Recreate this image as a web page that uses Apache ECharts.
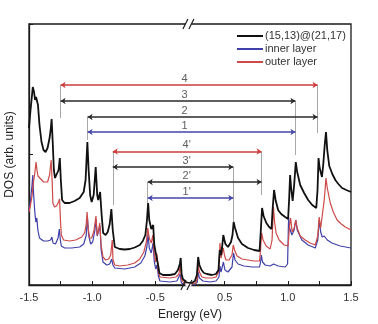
<!DOCTYPE html>
<html><head><meta charset="utf-8">
<script src="https://cdn.jsdelivr.net/npm/echarts@6/dist/echarts.min.js"></script>
<style>html,body{margin:0;padding:0;background:#fff}#c{width:378px;height:324px}</style>
</head><body><div id="c"></div>
<script>
// ---- data: [energy (eV), DOS (arb. units)] ----
const totalDOS = [
[-1.5,157],[-1.488,175],[-1.476,190],[-1.470,198],[-1.460,193],[-1.452,185],[-1.444,188],[-1.437,190],[-1.429,180],[-1.417,160],[-1.401,143],[-1.385,135],[-1.369,133],[-1.353,137],[-1.337,147],[-1.327,157],[-1.321,166],[-1.313,145],[-1.303,115],[-1.294,107],[-1.282,109],[-1.266,115],[-1.256,127],[-1.248,105],[-1.238,85],[-1.218,82],[-1.179,82],[-1.139,84],[-1.099,87],[-1.067,93],[-1.052,105],[-1.038,143],[-1.028,115],[-1.016,90],[-1.004,83],[-0.988,90],[-0.972,118],[-0.960,90],[-0.952,85],[-0.937,93],[-0.925,70],[-0.913,52],[-0.893,50],[-0.877,53],[-0.861,61],[-0.848,76],[-0.837,55],[-0.821,38],[-0.782,36],[-0.742,35.5],[-0.702,36],[-0.663,37.5],[-0.623,40],[-0.599,44],[-0.579,50],[-0.566,65],[-0.557,82],[-0.548,65],[-0.532,56],[-0.517,60],[-0.508,40],[-0.498,33],[-0.488,35],[-0.478,20],[-0.468,12],[-0.440,10],[-0.385,10],[-0.345,11],[-0.321,15],[-0.306,21],[-0.299,27],[-0.292,11],[-0.282,6],[-0.258,3],[-0.238,2],
[0.213,2],[0.240,2],[0.264,4],[0.280,10],[0.290,28],[0.300,20],[0.317,15],[0.336,12],[0.360,11],[0.399,10],[0.431,11],[0.451,15],[0.461,35],[0.471,30],[0.479,37],[0.489,50],[0.498,45],[0.506,41],[0.526,38],[0.550,43],[0.562,50],[0.571,63],[0.582,57],[0.606,47],[0.637,41],[0.685,37],[0.733,35],[0.776,34],[0.784,50],[0.796,77],[0.808,69],[0.830,62],[0.852,58],[0.871,56],[0.879,75],[0.891,95],[0.903,85],[0.923,75],[0.947,71],[0.979,68],[1.002,66],[1.010,85],[1.018,110],[1.026,97],[1.038,84],[1.050,100],[1.063,123],[1.074,113],[1.098,100],[1.129,92],[1.161,85],[1.193,80],[1.225,77],[1.235,95],[1.243,127],[1.252,117],[1.270,108],[1.280,120],[1.292,140],[1.302,153],[1.312,135],[1.328,119],[1.352,111],[1.376,105],[1.400,101],[1.429,97],[1.463,95],[1.5,93]
];
const outerDOS = [
[-1.5,73],[-1.488,80],[-1.476,89],[-1.468,100],[-1.456,110],[-1.444,123],[-1.437,115],[-1.429,109],[-1.417,107],[-1.385,103],[-1.353,103],[-1.337,110],[-1.325,125],[-1.317,105],[-1.311,82],[-1.298,78],[-1.282,79],[-1.266,83],[-1.258,86],[-1.251,65],[-1.244,50],[-1.226,45],[-1.179,44],[-1.131,45],[-1.083,48],[-1.060,52],[-1.048,60],[-1.040,73],[-1.032,57],[-1.020,47],[-1.004,47],[-0.988,53],[-0.976,63],[-0.970,69],[-0.960,50],[-0.952,53],[-0.940,62],[-0.929,40],[-0.914,28],[-0.893,25],[-0.869,26],[-0.853,30],[-0.841,45],[-0.835,25],[-0.821,20],[-0.782,19],[-0.718,20],[-0.663,22],[-0.623,26],[-0.591,33],[-0.571,43],[-0.560,57],[-0.548,47],[-0.532,42],[-0.520,50],[-0.508,30],[-0.496,23],[-0.487,31],[-0.478,15],[-0.464,8],[-0.385,7],[-0.337,8],[-0.313,11],[-0.302,20],[-0.292,5],[-0.274,2],[-0.238,1],
[0.213,1],[0.240,1],[0.272,2],[0.284,7],[0.290,20],[0.300,13],[0.320,8],[0.352,7],[0.399,7],[0.431,8],[0.451,13],[0.457,25],[0.463,42],[0.471,27],[0.479,29],[0.489,37],[0.498,30],[0.510,25],[0.534,25],[0.558,30],[0.568,40],[0.578,35],[0.598,29],[0.637,26],[0.685,25],[0.733,24],[0.776,24],[0.784,35],[0.792,52],[0.804,45],[0.828,39],[0.860,36],[0.875,45],[0.886,78],[0.895,63],[0.907,52],[0.931,45],[0.971,40],[1.002,39],[1.014,60],[1.022,67],[1.034,53],[1.050,57],[1.063,65],[1.074,57],[1.098,49],[1.137,45],[1.177,42],[1.217,40],[1.237,49],[1.248,68],[1.260,57],[1.272,55],[1.288,85],[1.302,107],[1.312,97],[1.336,82],[1.360,73],[1.390,65],[1.423,61],[1.455,58],[1.5,55]
];
const innerDOS = [
[-1.5,73],[-1.488,85],[-1.476,100],[-1.470,110],[-1.463,90],[-1.454,73],[-1.446,63],[-1.438,67],[-1.430,55],[-1.417,47],[-1.385,44],[-1.353,44],[-1.329,45],[-1.319,48],[-1.310,42],[-1.290,41],[-1.270,47],[-1.260,56],[-1.252,45],[-1.244,39],[-1.218,37],[-1.163,37],[-1.099,38],[-1.067,41],[-1.048,49],[-1.037,67],[-1.028,50],[-1.012,41],[-0.996,43],[-0.978,55],[-0.970,66],[-0.960,49],[-0.948,47],[-0.938,59],[-0.929,35],[-0.914,23],[-0.885,20],[-0.861,21],[-0.845,26],[-0.836,20],[-0.821,17],[-0.742,16],[-0.663,18],[-0.615,22],[-0.583,29],[-0.567,38],[-0.558,51],[-0.548,37],[-0.532,32],[-0.518,42],[-0.508,23],[-0.496,16],[-0.487,20],[-0.476,9],[-0.464,4],[-0.385,3],[-0.329,4],[-0.303,11],[-0.294,2],[-0.274,1],[-0.238,0],
[0.213,0],[0.256,0],[0.284,3],[0.290,13],[0.300,7],[0.328,4],[0.383,3],[0.431,4],[0.455,8],[0.463,19],[0.471,13],[0.483,15],[0.490,23],[0.502,15],[0.526,13],[0.558,18],[0.570,32],[0.582,25],[0.606,21],[0.653,19],[0.717,18],[0.776,18],[0.784,23],[0.790,30],[0.800,23],[0.820,20],[0.860,19],[0.887,21],[0.895,20],[0.923,19],[0.979,18],[0.998,21],[1.006,68],[1.014,57],[1.032,50],[1.050,55],[1.063,65],[1.074,55],[1.111,45],[1.161,40],[1.217,37],[1.237,45],[1.248,65],[1.260,53],[1.272,48],[1.288,49],[1.298,51],[1.312,45],[1.349,42],[1.415,39],[1.5,37]
];
const seriesNames = ['(15,13)@(21,17)', 'inner layer', 'outer layer'];
// transitions: label, start/end energy, arrow level, colour key
const transLabels = ['4', '3', '2', '1', "4'", "3'", "2'", "1'"];
const transStart = [-1.250, -1.250, -1.036, -1.036, -0.837, -0.837, -0.560, -0.560];
const transEnd   = [1.235, 1.060, 1.235, 1.060, 0.792, 0.568, 0.792, 0.568];
const transLevel = [200, 184, 168, 153, 133.5, 118, 103, 87];
const transKind  = ['outer', 'total', 'total', 'inner', 'outer', 'total', 'total', 'inner'];
// guide lines: energy, top level, bottom level
const guideE   = [-1.250, -1.036, -0.837, -0.560, 0.568, 0.792, 1.060, 1.235];
const guideTop = [200, 168, 133.5, 103, 118, 133.5, 184, 200];
const guideBot = [167, 145, 80, 82, 63, 90, 130, 152];
const tickE  = [-1.5, -1.25, -1.0, -0.75, -0.5, 0.5, 0.75, 1.0, 1.25, 1.5];
const labelE = [-1.5, -1.0, -0.5, 0.5, 1.0, 1.5];
const GAP_LO = -0.238, GAP_HI = 0.213;   // axis break
// -------------------------------------------------------------------
const GAP = GAP_HI - GAP_LO;
const toU = e => e < 0 ? e : e - GAP;
const toE = u => u <= GAP_LO + 1e-9 ? u : u + GAP;
const conv = arr => arr.map(p => [toU(p[0]), p[1]]);
const colors = {total: '#111111', inner: '#3f40a8', outer: '#cc4a48'};
const arrowCol = {total: '#2a2a2a', inner: '#4646a8', outer: '#cc3c3c'};

const chart = echarts.init(document.getElementById('c'), null, {renderer: 'canvas'});
const font = 'Liberation Sans, Arial, sans-serif';
const labelU = -0.268, labelU2 = -0.252;

chart.setOption({
  animation: false,
  grid: {left: 29, right: 27, top: 24, bottom: 39, show: true, borderColor: '#1a1a1a', borderWidth: 1.3,
         backgroundColor: 'transparent', containLabel: false, outerBoundsMode: 'none'},
  legend: {
    data: seriesNames, orient: 'vertical', left: 237, top: 30, itemWidth: 26, itemHeight: 2, itemGap: 1,
    icon: 'rect', textStyle: {fontSize: 11, fontFamily: font, color: '#333', lineHeight: 12, padding: [0,0,0,-3]},
    padding: 0
  },
  xAxis: {
    type: 'value', min: toU(-1.5), max: toU(1.5),
    axisLine: {show: true, onZero: false, lineStyle: {color: '#1a1a1a', width: 1.3}},
    axisTick: {show: true, inside: true, length: 4, customValues: tickE.map(toU), lineStyle: {color: '#1a1a1a', width: 1}},
    axisLabel: {show: true, customValues: labelE.map(toU), formatter: v => toE(v).toFixed(1), fontSize: 11, fontFamily: font, color: '#333', margin: 7},
    splitLine: {show: false},
    name: 'Energy (eV)', nameLocation: 'middle', nameGap: 24, nameTextStyle: {fontSize: 12, fontFamily: font, color: '#222'}
  },
  yAxis: {
    type: 'value', min: 0, max: 261, interval: 130.5,
    axisLine: {show: true, onZero: false, lineStyle: {color: '#1a1a1a', width: 1.3}},
    axisTick: {show: true, inside: true, length: 4, lineStyle: {color: '#1a1a1a'}},
    axisLabel: {show: false}, splitLine: {show: false},
    name: 'DOS (arb. units)', nameLocation: 'middle', nameGap: 13, nameRotate: 90,
    nameTextStyle: {fontSize: 12, fontFamily: font, color: '#222'}
  },
  series: [
    {name: seriesNames[1], type: 'line', data: conv(innerDOS), showSymbol: false, symbol: 'none',
     lineStyle: {color: colors.inner, width: 1.2}, itemStyle: {color: colors.inner}, z: 2},
    {name: seriesNames[2], type: 'line', data: conv(outerDOS), showSymbol: false, symbol: 'none',
     lineStyle: {color: colors.outer, width: 1.2}, itemStyle: {color: colors.outer}, z: 3},
    {name: seriesNames[0], type: 'line', data: conv(totalDOS), showSymbol: false, symbol: 'none',
     lineStyle: {color: colors.total, width: 1.8}, itemStyle: {color: colors.total}, z: 4},
    {type: 'lines', coordinateSystem: 'cartesian2d', z: 5, silent: true,
     data: guideE.map((e, i) => ({coords: [[toU(e), guideTop[i]], [toU(e), guideBot[i]]]})),
     symbol: 'none', lineStyle: {color: '#a8a8a8', width: 1, opacity: 1}},
    {type: 'lines', coordinateSystem: 'cartesian2d', z: 6, silent: true,
     data: transLabels.map((l, i) => ({coords: [[toU(transStart[i]), transLevel[i]], [toU(transEnd[i]), transLevel[i]]],
       lineStyle: {color: arrowCol[transKind[i]]}})),
     symbol: ['arrow', 'arrow'], symbolSize: 5, lineStyle: {width: 1.5, opacity: 1}},
    {type: 'scatter', z: 7, silent: true, symbolSize: 0,
     data: transLabels.map((l, i) => ({name: l, value: [i < 4 ? labelU : labelU2, transLevel[i]]})),
     label: {show: true, formatter: '{b}', position: 'top', distance: 1, fontSize: 11, fontFamily: font, color: '#333'}}
  ]
});

// axis-break marks on top and bottom frame lines
const pb = chart.convertToPixel({gridIndex: 0}, [GAP_LO, 0]);
const pt = chart.convertToPixel({gridIndex: 0}, [GAP_LO, 261]);
const slash = (cx, cy) => [-3, 3].map(d => ({
  type: 'line', shape: {x1: cx + d - 2.5, y1: cy + 5, x2: cx + d + 2.5, y2: cy - 5},
  style: {stroke: '#1a1a1a', lineWidth: 1.2}, z: 100
}));
chart.setOption({graphic: [
  {type: 'rect', shape: {x: pt[0] - 3, y: pt[1] - 1.5, width: 6, height: 3}, style: {fill: '#fff'}, z: 99},
  {type: 'rect', shape: {x: pb[0] - 3, y: pb[1] - 1.5, width: 6, height: 3}, style: {fill: '#fff'}, z: 99},
  ...slash(pt[0], pt[1]), ...slash(pb[0] - 2, pb[1])
]});
</script></body></html>
